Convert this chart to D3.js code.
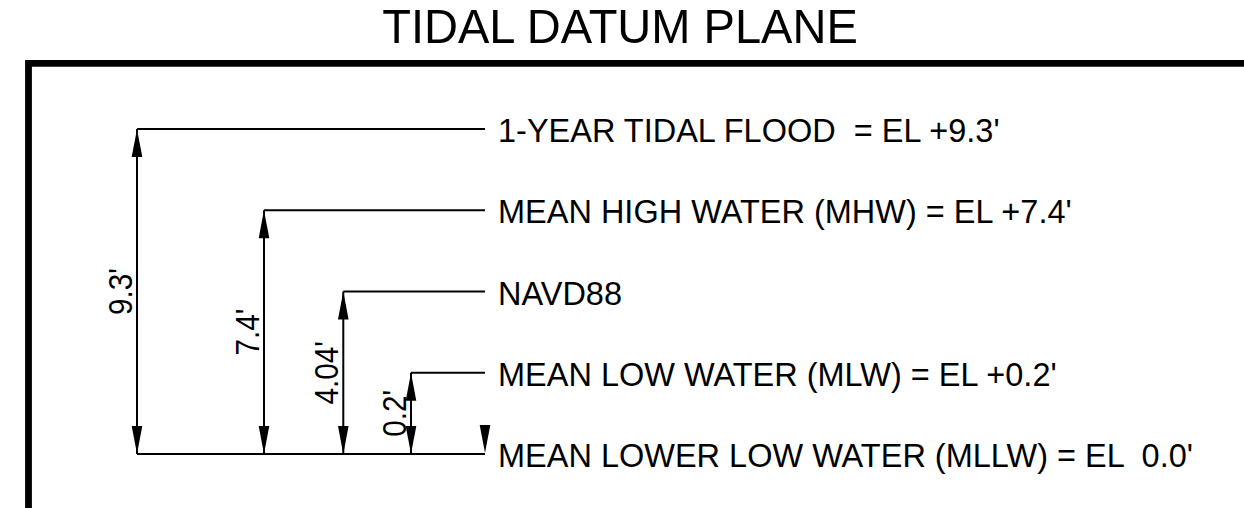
<!DOCTYPE html>
<html>
<head>
<meta charset="utf-8">
<script src="https://cdn.jsdelivr.net/npm/d3@7"></script>
<style>
  html, body { margin: 0; padding: 0; background: #fff; }
  svg text { font-family: "Liberation Sans", Arial, Helvetica, sans-serif; white-space: pre; fill: #000; }
</style>
</head>
<body>
<svg id="chart" width="1244" height="508"></svg>
<script>
// datum levels, top to bottom
const levelNames = ["1-YEAR TIDAL FLOOD", "MEAN HIGH WATER (MHW)", "NAVD88", "MEAN LOW WATER (MLW)", "MEAN LOWER LOW WATER (MLLW)"];
const elevations = [9.3, 7.4, 4.04, 0.2, 0.0];
const levelLabels = [
  "1-YEAR TIDAL FLOOD  = EL +9.3'",
  "MEAN HIGH WATER (MHW) = EL +7.4'",
  "NAVD88",
  "MEAN LOW WATER (MLW) = EL +0.2'",
  "MEAN LOWER LOW WATER (MLLW) = EL  0.0'"
];
const dimLabels = ["9.3'", "7.4'", "4.04'", "0.2'"];
const titleText = "TIDAL DATUM PLANE";

const svg = d3.select("#chart");
const W = 1244, H = 508;

// schematic, not to scale: levels evenly spaced
const y = d3.scalePoint().domain(levelNames).range([129, 454]);
const x = d3.scalePow().exponent(0.7).domain([0, 3]).range([137, 411]);
const lineEnd = 485, labelX = 498;
const base = levelNames[levelNames.length - 1];
const yBase = y(base);

// title
svg.append("text")
  .attr("transform", `translate(${W / 2 - 2},43) scale(0.96,1)`)
  .attr("text-anchor", "middle")
  .attr("font-size", 49)
  .text(titleText);

// frame
svg.append("path")
  .attr("d", `M28.5,${H} V63.3 H${W}`)
  .attr("fill", "none")
  .attr("stroke", "#000")
  .attr("stroke-width", 6.8);

const g = svg.append("g");

// arrowhead: tip at (cx, cy), dir -1 up, +1 down
function arrow(cx, cy, dir) {
  const len = 28, hw = 5.3;
  return `M${cx},${cy} L${cx - hw},${cy - dir * len} L${cx + hw},${cy - dir * len} Z`;
}

// base line (MLLW)
g.append("line")
  .attr("x1", x(0)).attr("x2", lineEnd)
  .attr("y1", yBase).attr("y2", yBase)
  .attr("stroke", "#000").attr("stroke-width", 2);

const dims = levelNames.slice(0, 4).map((name, i) => ({
  name, i, elev: elevations[i], label: dimLabels[i]
}));

// level lines
g.selectAll(".lvl")
  .data(dims)
  .enter().append("line")
  .attr("class", "lvl")
  .attr("x1", d => x(d.i)).attr("x2", lineEnd)
  .attr("y1", d => y(d.name)).attr("y2", d => y(d.name))
  .attr("stroke", "#000").attr("stroke-width", 2);

// dimension lines
g.selectAll(".dim")
  .data(dims)
  .enter().append("line")
  .attr("class", "dim")
  .attr("x1", d => x(d.i)).attr("x2", d => x(d.i))
  .attr("y1", d => y(d.name)).attr("y2", yBase)
  .attr("stroke", "#000").attr("stroke-width", 2);

// arrowheads at both ends
g.selectAll(".arr-up")
  .data(dims)
  .enter().append("path")
  .attr("d", d => arrow(x(d.i), y(d.name), -1))
  .attr("fill", "#000");
g.selectAll(".arr-dn")
  .data(dims)
  .enter().append("path")
  .attr("d", d => arrow(x(d.i), yBase, 1))
  .attr("fill", "#000");
// lone arrow at the end of the MLLW line
g.append("path")
  .attr("d", arrow(lineEnd, yBase - 1, 1))
  .attr("fill", "#000");

// dimension text, rotated
g.selectAll(".dimtxt")
  .data(dims)
  .enter().append("text")
  .attr("transform", d => `translate(${x(d.i) - 5},${(y(d.name) + yBase) / 2}) rotate(-90) scale(0.9,1)`)
  .attr("text-anchor", "middle")
  .attr("font-size", 33)
  .text(d => d.label);

// level labels
g.selectAll(".lbl")
  .data(levelNames)
  .enter().append("text")
  .attr("transform", d => `translate(${labelX},${y(d) + 13}) scale(0.97,1)`)
  .attr("font-size", 33.5)
  .text((d, i) => levelLabels[i]);
</script>
</body>
</html>
